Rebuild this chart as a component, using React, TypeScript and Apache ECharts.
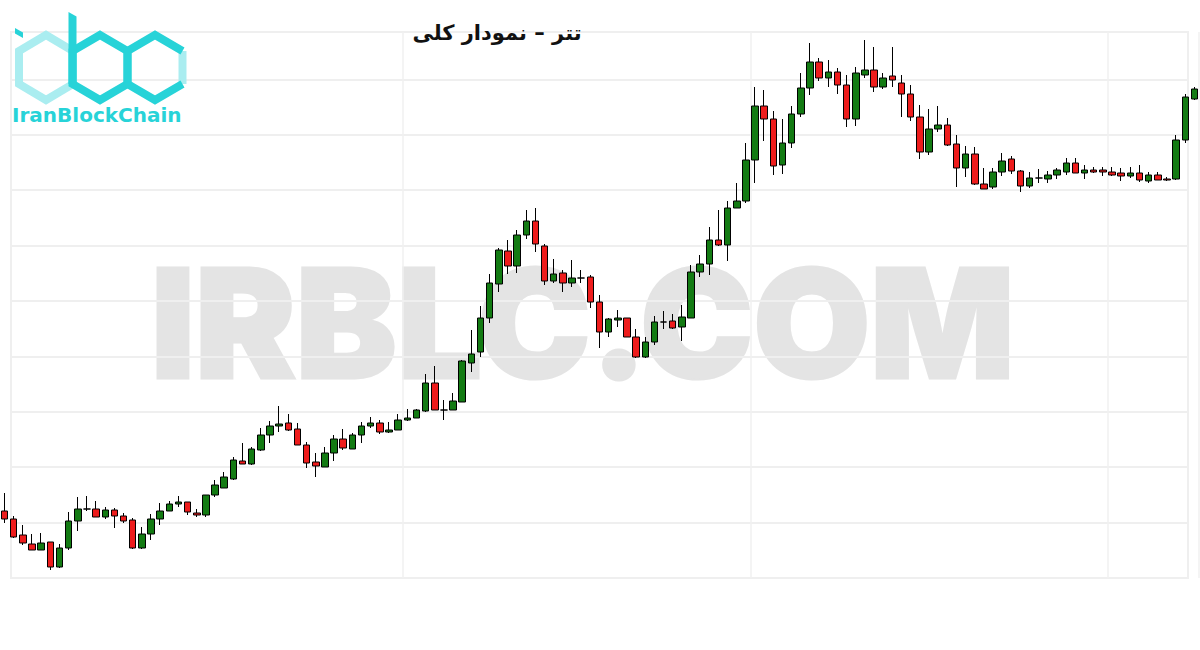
import React, { useEffect, useRef } from "react";
import * as echarts from "echarts";

// Candle values (open / close / low / high)
const openP = [
  89, 81, 65, 56, 50, 58, 33, 52, 79, 91,
  91, 83, 90, 84, 80, 52, 66, 81, 89, 96,
  98, 87, 85, 105, 112, 121, 139, 136, 150, 165,
  174, 177, 171, 155, 138, 133, 147, 161, 151, 165,
  174, 177, 168, 170, 180, 182, 189, 217, 190, 190,
  198, 237, 248, 282, 316, 349, 334, 365, 379, 354,
  319, 327, 317, 322, 323, 298, 268, 280, 282, 263,
  243, 258, 278, 279, 273, 282, 328, 336, 360, 355,
  392, 399, 440, 494, 481, 435, 457, 486, 512, 538,
  522, 528, 515, 481, 525, 530, 513, 524, 517, 506,
  483, 448, 471, 475, 456, 432, 446, 416, 413, 428,
  441, 429, 414, 422, 421, 425, 428, 437, 427, 430,
  430, 428, 427, 424, 427, 419, 425, 421, 421, 460,
  501,
];
const closeP = [
  81, 63, 57, 50, 57, 33, 52, 79, 91, 91,
  83, 90, 84, 79, 52, 66, 81, 89, 96, 98,
  88, 85, 105, 115, 123, 140, 136, 151, 165, 174,
  176, 170, 155, 137, 134, 147, 161, 152, 165, 174,
  177, 168, 170, 180, 182, 190, 217, 190, 190, 199,
  239, 246, 282, 317, 350, 334, 365, 379, 356, 319,
  326, 317, 322, 322, 298, 268, 281, 282, 263, 243,
  258, 278, 278, 272, 283, 328, 336, 360, 355, 392,
  399, 440, 494, 481, 434, 457, 486, 512, 538, 522,
  528, 515, 481, 527, 530, 513, 522, 520, 506, 483,
  448, 471, 475, 455, 432, 446, 416, 411, 428, 439,
  429, 414, 422, 422, 425, 430, 437, 427, 430, 428,
  428, 425, 424, 427, 420, 425, 420, 420, 460, 503,
  511,
];
const lowP = [
  77, 62, 55, 50, 50, 30, 32, 50, 69, 89,
  83, 81, 72, 77, 51, 51, 60, 75, 89, 93,
  85, 83, 83, 103, 112, 120, 136, 135, 149, 157,
  168, 169, 155, 132, 123, 133, 139, 150, 151, 157,
  172, 166, 167, 170, 179, 182, 188, 190, 180, 190,
  198, 228, 243, 277, 308, 326, 327, 361, 348, 315,
  317, 308, 313, 317, 292, 252, 263, 273, 263, 242,
  242, 255, 271, 271, 259, 282, 323, 325, 354, 339,
  392, 397, 417, 459, 425, 426, 452, 483, 505, 519,
  513, 506, 473, 474, 522, 508, 511, 513, 483, 479,
  441, 445, 468, 454, 413, 423, 415, 411, 411, 424,
  426, 408, 412, 417, 417, 421, 425, 427, 421, 427,
  424, 424, 419, 422, 418, 417, 420, 419, 420, 457,
  500,
];
const highP = [
  107, 84, 75, 66, 67, 58, 56, 88, 103, 104,
  99, 93, 92, 87, 82, 73, 86, 97, 99, 104,
  98, 91, 105, 120, 128, 143, 157, 153, 172, 179,
  194, 186, 177, 158, 147, 153, 165, 171, 167, 178,
  183, 180, 178, 186, 191, 191, 226, 234, 200, 207,
  240, 270, 294, 326, 352, 360, 370, 390, 392, 356,
  341, 330, 340, 330, 325, 305, 282, 290, 282, 271,
  263, 284, 289, 286, 295, 335, 345, 373, 390, 399,
  417, 457, 513, 510, 489, 481, 494, 527, 557, 542,
  540, 532, 525, 533, 560, 553, 527, 553, 525, 515,
  495, 491, 494, 482, 465, 454, 453, 432, 432, 447,
  444, 430, 428, 431, 429, 432, 442, 442, 435, 433,
  433, 433, 432, 433, 435, 428, 428, 423, 465, 506,
  513,
];
const periods = openP.map((_, i) => `${i + 1}`);
const gridMarkPeriods = ["45", "83", "122"];

const TITLE = "تتر – نمودار کلی";
const WATERMARK = "IRBLC.COM";
const BRAND = "IranBlockChain";

const UP = "#137b13";
const DOWN = "#ee1c1c";
const CYAN = "#27d3d8";
const CYAN_LIGHT = "#aaedf0";

function buildOption() {
  const candles = periods.map((_, i) => [openP[i], closeP[i], lowP[i], highP[i]]);
  return {
    animation: false,
    backgroundColor: "#ffffff",
    grid: [
      { left: -1, right: 1, top: 32, height: 546, show: false },
      {
        left: 11,
        right: 12,
        top: 32,
        height: 546,
        show: true,
        borderColor: "#efefef",
        borderWidth: 2,
        backgroundColor: "transparent",
      },
    ],
    xAxis: [
      {
        type: "category",
        gridIndex: 0,
        data: periods,
        boundaryGap: true,
        z: 1,
        axisLine: { show: false },
        axisTick: { show: false },
        axisLabel: { show: false },
        splitLine: {
          show: true,
          interval: (_idx: number, val: string) => gridMarkPeriods.includes(val),
          lineStyle: { color: "#f0f0f0", width: 1.5 },
        },
      },
      {
        type: "value",
        gridIndex: 1,
        min: 0,
        max: 1,
        show: false,
      },
    ],
    yAxis: [
      {
        type: "value",
        gridIndex: 0,
        min: 22,
        max: 568,
        show: false,
      },
      {
        type: "value",
        gridIndex: 1,
        min: 22,
        max: 568,
        interval: 55.4,
        z: 1,
        axisLine: { show: false },
        axisTick: { show: false },
        axisLabel: { show: false },
        splitLine: { show: true, lineStyle: { color: "#efefef", width: 2 } },
      },
    ],
    series: [
      {
        type: "candlestick",
        xAxisIndex: 0,
        yAxisIndex: 0,
        data: candles,
        barWidth: 7,
        z: 5,
        itemStyle: {
          color: UP,
          color0: DOWN,
          borderColor: "#000000",
          borderColor0: "#000000",
          borderWidth: 1,
        },
      },
    ],
    graphic: [
      {
        type: "text",
        x: 151,
        y: 323,
        z: 0,
        silent: true,
        style: {
          text: WATERMARK,
          fill: "#e4e4e4",
          stroke: "#e4e4e4",
          lineWidth: 3,
          fontSize: 151,
          fontWeight: 900,
          fontFamily: "Inter, sans-serif",
          verticalAlign: "middle",
          textVerticalAlign: "middle",
        },
      },
      // logo: "i" hexagon (light)
      {
        type: "polygon",
        z: 10,
        shape: { points: [[46, 35], [73, 51], [73, 84], [46, 100], [19, 84], [19, 51]] },
        style: { fill: "none", stroke: CYAN_LIGHT, lineWidth: 8, lineJoin: "miter" },
      },
      {
        type: "polygon",
        z: 11,
        shape: { points: [[15, 28], [23, 32.5], [23, 38], [15, 33.5]] },
        style: { fill: CYAN },
      },
      // "b"
      {
        type: "polygon",
        z: 11,
        shape: { points: [[100, 35], [127.5, 51], [127.5, 84], [100, 100], [72.5, 84], [72.5, 51]] },
        style: { fill: "none", stroke: CYAN, lineWidth: 8, lineJoin: "miter" },
      },
      {
        type: "polygon",
        z: 11,
        shape: { points: [[68.5, 12], [76.5, 16.5], [76.5, 84], [68.5, 84]] },
        style: { fill: CYAN },
      },
      // "c"
      {
        type: "polyline",
        z: 11,
        shape: { points: [[182.5, 51], [155, 35], [127.5, 51], [127.5, 84], [155, 100], [182.5, 84]] },
        style: { fill: "none", stroke: CYAN, lineWidth: 8, lineJoin: "miter" },
      },
      {
        type: "line",
        z: 10,
        shape: { x1: 182.5, y1: 51, x2: 182.5, y2: 84 },
        style: { stroke: CYAN_LIGHT, lineWidth: 8 },
      },
      {
        type: "text",
        x: 12,
        y: 115,
        z: 11,
        style: {
          text: BRAND,
          fill: CYAN,
          fontSize: 20,
          fontWeight: "bold",
          fontFamily: "DejaVu Sans, sans-serif",
          verticalAlign: "middle",
          textVerticalAlign: "middle",
        },
      },
      {
        type: "text",
        x: 497,
        y: 33,
        z: 11,
        style: {
          text: TITLE,
          fill: "#111111",
          fontSize: 21,
          fontWeight: "bold",
          fontFamily: "DejaVu Sans, sans-serif",
          align: "center",
          textAlign: "center",
          verticalAlign: "middle",
          textVerticalAlign: "middle",
        },
      },
    ],
  };
}

export default function App() {
  const ref = useRef<HTMLDivElement>(null);
  useEffect(() => {
    document.body.style.margin = "0";
    const chart = echarts.init(ref.current as HTMLDivElement, null, { renderer: "svg" });
    chart.setOption(buildOption() as any);
    return () => chart.dispose();
  }, []);
  return (
    <div
      ref={ref}
      style={{ position: "fixed", left: 0, top: 0, width: 1200, height: 650, background: "#ffffff" }}
    />
  );
}
